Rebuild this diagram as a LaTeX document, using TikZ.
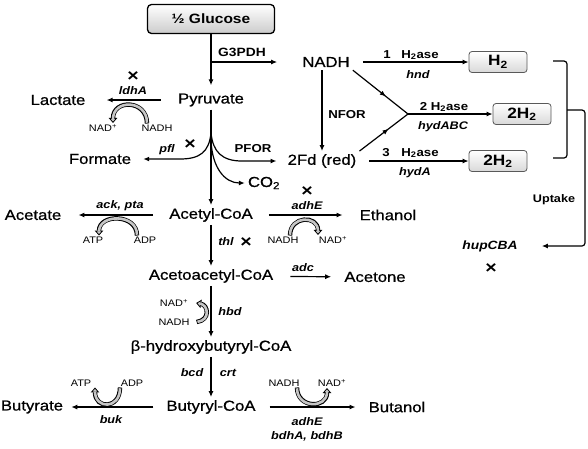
\documentclass[tikz,border=0pt]{standalone}
\usepackage{fontspec}
\setmainfont{Liberation Sans}[FakeStretch=1.15]
\newfontfamily\metfont{Liberation Sans}[FakeStretch=1.15, FakeBold=0.7]
\usetikzlibrary{arrows.meta, positioning, calc, decorations.markings}

\begin{document}
\begin{tikzpicture}[
        x=1pt, y=-1pt,
        met/.style={font=\metfont\fontsize{14.5}{16}\selectfont, inner sep=3pt},
        coflbl/.style={font=\fontsize{9.5}{10}\selectfont, inner sep=1pt},
        enz/.style={font=\fontsize{11}{12}\selectfont\bfseries\itshape, inner sep=1pt},
        lbl/.style={font=\fontsize{11.5}{12}\selectfont\bfseries, inner sep=1pt},
        ko/.style={font=\fontsize{17}{17}\selectfont\bfseries, inner sep=0pt},
        prod/.style={draw=gray!70!black, line width=0.8pt, rounded corners=3pt, top color=white, bottom color=gray!30, minimum width=58pt, minimum height=21pt, font=\fontsize{15}{16}\selectfont\bfseries, inner sep=0pt},
        arr/.style={-{Latex[length=6pt,width=5pt]}, line width=1.2pt},
        harr/.style={arr, shorten <=12pt, shorten >=12pt},
        midarr/.style={line width=1.2pt, postaction={decorate}, decoration={markings, mark=at position 0.6 with {\arrow{Latex[length=6pt,width=5pt]}}}},
        cofarr/.style={line width=4.4pt, -{Triangle[length=5pt,width=8.5pt,fill=gray!45,line width=0.8pt]}, postaction={draw=gray!45, line width=2.6pt, -, shorten >=4pt, shorten <=0.8pt}},
    ]
        \useasboundingbox (0,0) rectangle (588,448);

        % --- Substrate ---
        \node[draw, line width=1.3pt, rounded corners=4pt, top color=white, bottom color=gray!40, minimum width=127pt, minimum height=29pt, font=\fontsize{13.5}{14}\selectfont\bfseries] (glc) at (211,19) {½ Glucose};

        % --- Main column ---
        \node[met] (pyr) at (211,100) {Pyruvate};
        \node[met] (acc) at (211,215) {Acetyl-CoA};
        \node[met] (aac) at (211,276) {Acetoacetyl-CoA};
        \node[met] (hbc) at (211,347) {β-hydroxybutyryl-CoA};
        \node[met] (bcoa) at (211,407) {Butyryl-CoA};

        % --- Side products ---
        \node[met] (lac) at (58,100) {Lactate};
        \node[met] (frm) at (100,159) {Formate};
        \node[met] (co2) at (264,183) {CO\textsubscript{2}};
        \node[met] (ace) at (33,215) {Acetate};
        \node[met] (eth) at (388,215) {Ethanol};
        \node[met] (acn) at (375,277) {Acetone};
        \node[met] (btr) at (32,407) {Butyrate};
        \node[met] (btl) at (397,407) {Butanol};

        % --- Hydrogen branch ---
        \node[met] (nadh) at (326,62) {NADH};
        \node[met] (fd) at (322,161) {2Fd (red)};
        \node[prod] (h2a) at (498,62) {H\textsubscript{2}};
        \node[prod] (h2b) at (522,114) {2H\textsubscript{2}};
        \node[prod] (h2c) at (498,161) {2H\textsubscript{2}};
        \node[enz, font=\fontsize{12}{13}\selectfont\bfseries\itshape] (hup) at (490,246) {hupCBA};
        \node[ko] (kohup) at (491,269) {×};

        % --- Glycolysis ---
        \coordinate (g3) at (211,62);
        \draw[arr, shorten >=5pt] (glc) -- (pyr);
        \draw[arr, shorten >=22pt] (g3) -- (nadh);
        \node[lbl, font=\fontsize{12}{13}\selectfont\bfseries] (g3pdh) at (242,52) {G3PDH};

        % --- Pyruvate node ---
        \coordinate (brp) at (211,133);
        \coordinate (brc) at (211,140);
        \draw[arr] (pyr) -- (acc);
        \draw[arr, shorten >=9pt] (brp) .. controls (209,152) and (200,159) .. (180,159) -- (frm);
        \draw[arr, shorten >=8pt] (brp) .. controls (213,152) and (222,161) .. (242,161) -- (fd);
        \draw[arr] (brc) .. controls (212,168) and (225,183) .. (co2);
        \node[enz] (pfl) at (167,150) {pfl};
        \node[ko] (kopfl) at (190,145) {×};
        \node[lbl] (pfor) at (253,149) {PFOR};

        % --- Lactate ---
        \draw[harr, shorten <=14pt, shorten >=18pt] (pyr) -- (lac);
        \node[enz] (ldh) at (133,91) {ldhA};
        \node[ko] (koldh) at (133,77) {×};
        \node[coflbl] (nad1) at (103,128) {NAD\textsuperscript{+}};
        \node[coflbl] (nadh1) at (157,128) {NADH};
        \draw[cofarr] ([xshift=-10pt]nadh1.north) .. controls +(0,-24) and +(0,-24) .. ([xshift=10pt]nad1.north);

        % --- Acetate / Ethanol ---
        \draw[harr, shorten <=13pt, shorten >=14pt] (acc) -- (ace);
        \node[enz] (ackpta) at (120,206) {ack, pta};
        \node[coflbl] (atp2) at (93,240) {ATP};
        \node[coflbl] (adp2) at (145,240) {ADP};
        \draw[cofarr] ([xshift=-8pt]adp2.north) .. controls +(0,-22) and +(0,-22) .. ([xshift=6pt]atp2.north);

        \draw[harr, shorten <=13pt, shorten >=14pt] (acc) -- (eth);
        \node[enz] (adhe1) at (307,206) {adhE};
        \node[ko] (koadh) at (307,192) {×};
        \node[coflbl] (nadh3) at (283,240) {NADH};
        \node[coflbl] (nad3) at (333,240) {NAD\textsuperscript{+}};
        \draw[cofarr] ([xshift=7pt]nadh3.north) .. controls +(0,-20) and +(0,-20) .. ([xshift=-15pt]nad3.north);

        % --- Acetoacetyl-CoA / Acetone ---
        \draw[arr] (acc) -- (aac);
        \node[enz] (thl) at (226,242) {thl};
        \node[ko] (kothl) at (246,243) {×};
        \draw[harr, shorten <=14pt, shorten >=10pt] (aac) -- (acn);
        \node[enz] (adc) at (303,268) {adc};

        % --- Butyryl-CoA ---
        \draw[arr] (aac) -- (hbc);
        \node[enz] (hbd) at (230,312) {hbd};
        \node[coflbl] (nad4) at (174,303) {NAD\textsuperscript{+}};
        \node[coflbl] (nadh4) at (174,322) {NADH};
        \draw[cofarr] ([xshift=6pt]nadh4.east) .. controls +(14,-2) and +(12,2) .. ([xshift=7pt]nad4.east);

        \draw[arr] (hbc) -- (bcoa);
        \node[enz] (bcd) at (192,373) {bcd};
        \node[enz] (crt) at (228,373) {crt};

        % --- Butyrate / Butanol ---
        \draw[harr, shorten <=10pt, shorten >=5pt] (bcoa) -- (btr);
        \node[enz] (buk) at (111,420) {buk};
        \node[coflbl] (atp5) at (81,383) {ATP};
        \node[coflbl] (adp5) at (132,383) {ADP};
        \draw[cofarr] ([xshift=-12pt]adp5.south) .. controls +(0,22) and +(0,22) .. ([xshift=14pt]atp5.south);

        \draw[harr, shorten <=11pt, shorten >=10pt] (bcoa) -- (btl);
        \node[enz] (adhe2) at (307,422) {adhE};
        \node[enz] (bdh) at (307,436) {bdhA, bdhB};
        \node[coflbl] (nadh6) at (284,383) {NADH};
        \node[coflbl] (nad6) at (332,383) {NAD\textsuperscript{+}};
        \draw[cofarr] ([xshift=13pt]nadh6.south) .. controls +(0,21) and +(0,21) .. ([xshift=-5pt]nad6.south);

        % --- Hydrogenases ---
        \draw[arr] (fd |- nadh.south) -- (fd);
        \node[lbl] (nfor) at (347,115) {NFOR};
        \coordinate (jn) at (408,114);
        \draw[arr, shorten <=10pt] (nadh) -- (h2a);
        \node[lbl] (n1) at (387,55) {1};
        \node[lbl] (ase1) at (420,55) {H\textsubscript{2}ase};
        \node[enz] (hnd) at (418,75) {hnd};
        \draw[midarr] (nadh.south east) -- (jn);
        \draw[midarr] (fd.north east) -- (jn);
        \draw[arr] (jn) -- (h2b);
        \node[lbl] (ase2) at (444,107) {2 H\textsubscript{2}ase};
        \node[enz] (hydabc) at (443,127) {hydABC};
        \draw[arr, shorten <=10pt] (fd) -- (h2c);
        \node[lbl] (n3) at (386,153) {3};
        \node[lbl] (ase3) at (420,153) {H\textsubscript{2}ase};
        \node[enz] (hyda) at (415,173) {hydA};

        % --- Uptake bracket ---
        \draw[line width=1.2pt, rounded corners=3pt] (553,61) -- (567,61) -- (567,158) -- (553,158);
        \coordinate (brk) at (567,110);
        \draw[arr, rounded corners=3pt, shorten >=23pt] (brk) -- (585,110) |- (hup);
        \node[lbl, font=\fontsize{11}{12}\selectfont\bfseries] (upt) at (554,200) {Uptake};

    \end{tikzpicture}
\end{document}
